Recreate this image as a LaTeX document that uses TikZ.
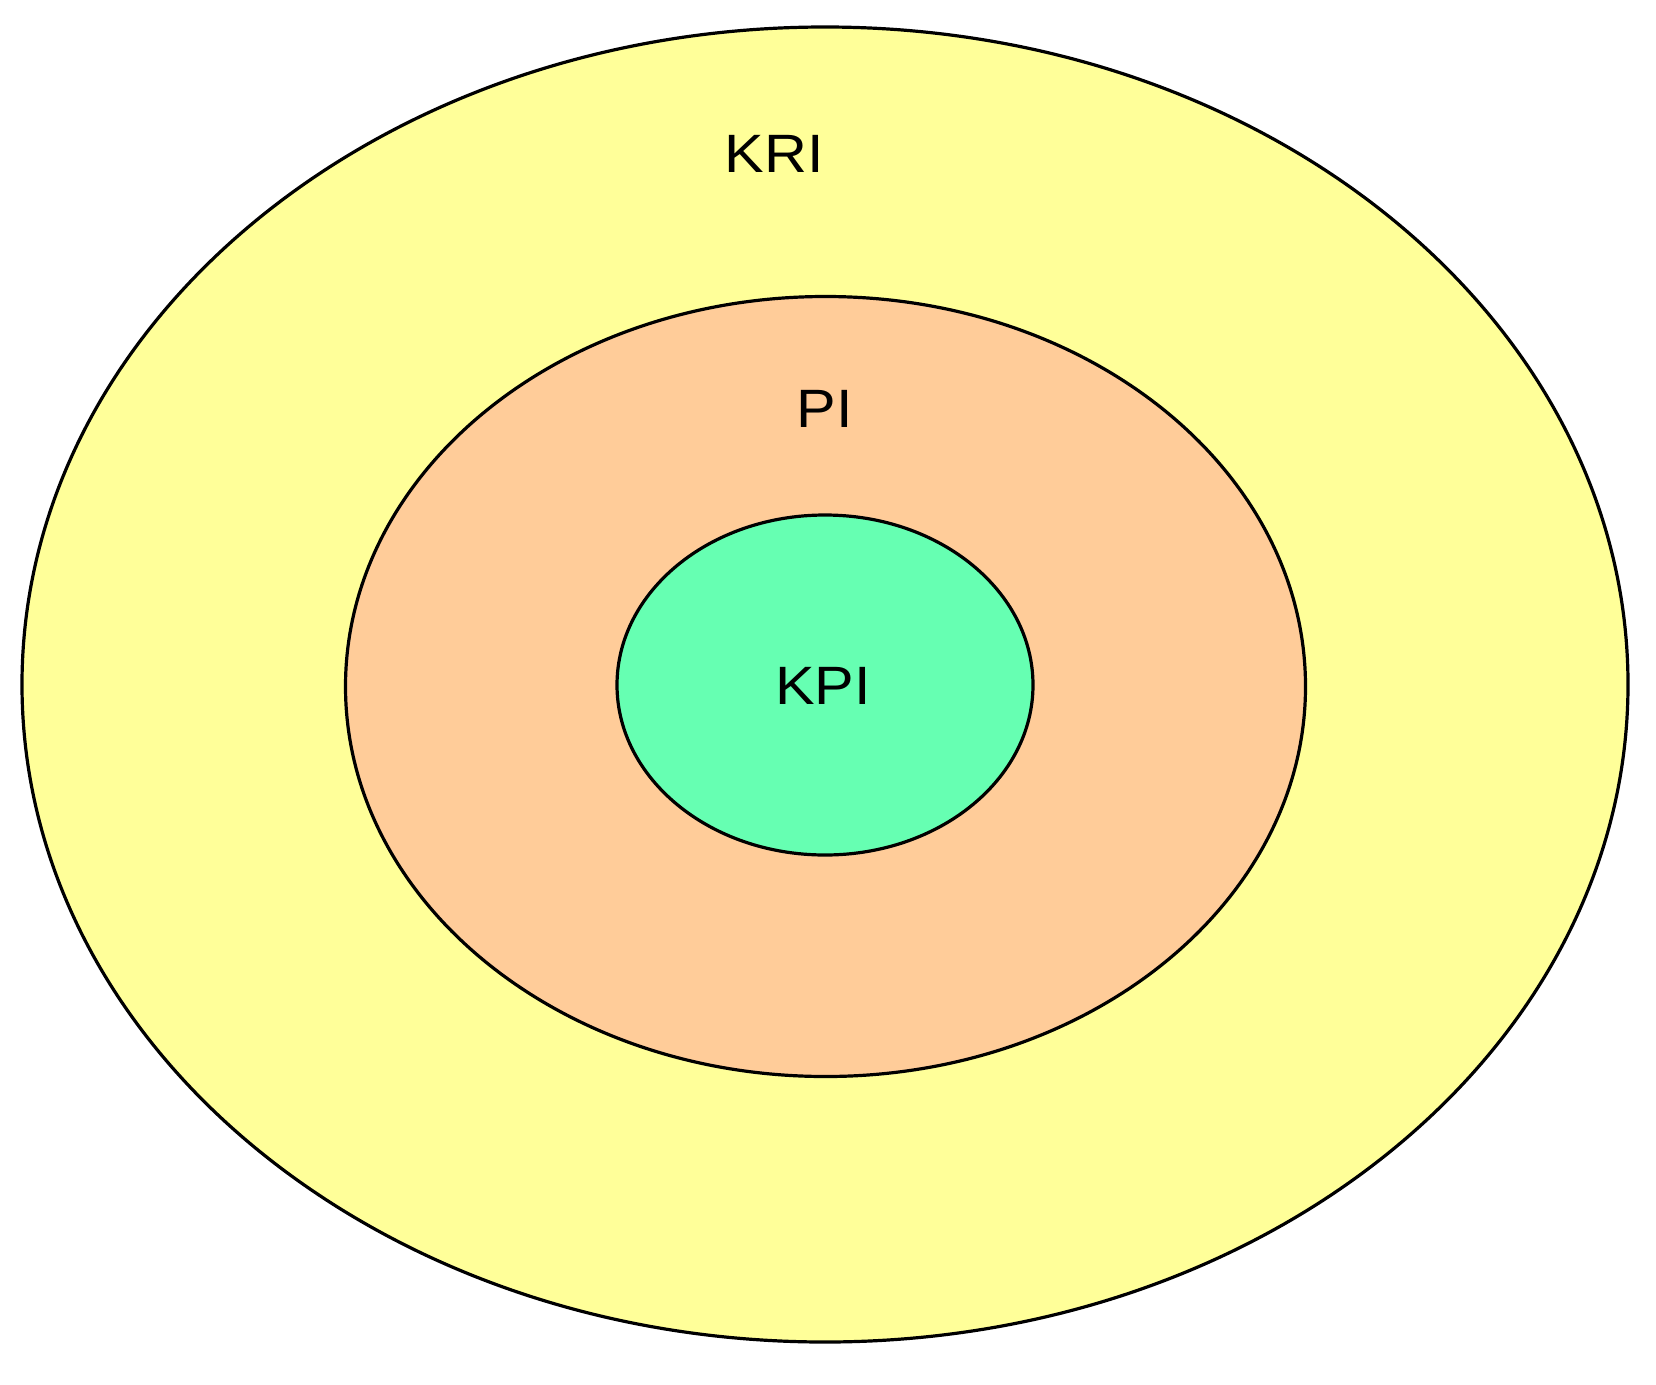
\documentclass[tikz,border=0pt]{standalone}
\usepackage{fontspec}
\setmainfont{Liberation Sans}
\definecolor{outerY}{HTML}{FFFF99}
\definecolor{midP}{HTML}{FFCC99}
\definecolor{innerG}{HTML}{66FFB2}
\begin{document}
\begin{tikzpicture}[x=1pt,y=-1pt,
  ring/.style={draw=black,line width=3.2pt},
  lbl/.style={font=\fontsize{54}{60}\selectfont,text=black!85!black,inner sep=0pt,xscale=1.1}]
\useasboundingbox (0,0) rectangle (1656,1384);
\fill[white] (0,0) rectangle (1656,1384);
\filldraw[ring,fill=outerY] (825,684.5) ellipse [x radius=803,y radius=657.5];
\filldraw[ring,fill=midP] (825.5,686.5) ellipse [x radius=480,y radius=390];
\filldraw[ring,fill=innerG] (825,685) ellipse [x radius=208,y radius=170];
\node[lbl] (kri) at (774,154) {KRI};
\node[lbl] (pi) at (825,409) {PI};
\node[lbl] (kpi) at (823,686) {KPI};
\end{tikzpicture}
\end{document}
